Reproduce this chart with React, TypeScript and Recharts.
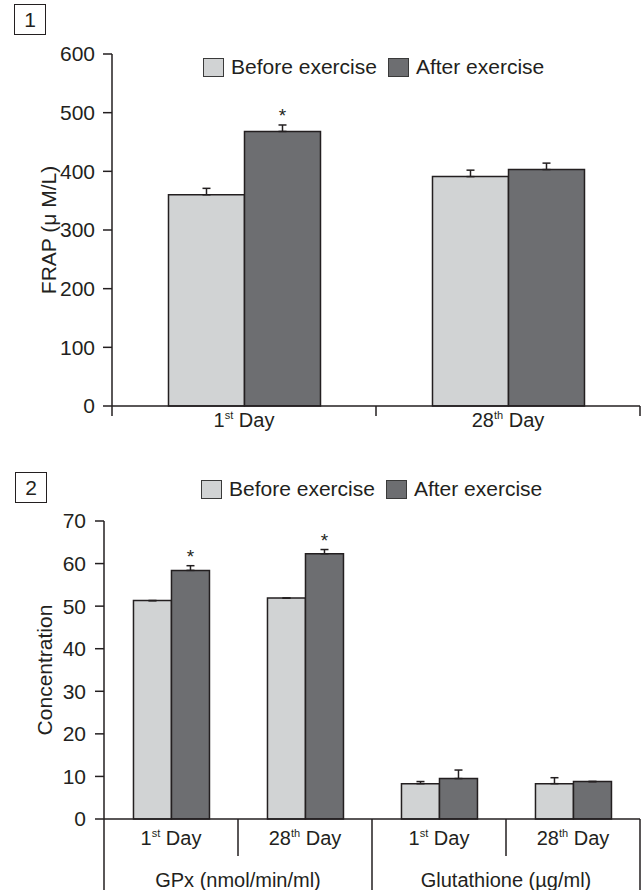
import React from 'react';
import { BarChart, Bar, XAxis, YAxis, ErrorBar, LabelList, Label } from 'recharts';

const FONT = '"Liberation Sans", Arial, Helvetica, sans-serif';
const INK = '#231f20';
const LIGHT = '#d1d3d4';
const DARK = '#6d6e71';

// ---------- Panel 1: FRAP ----------
const frapDays = ['1st Day', '28th Day'];
const frapBefore = [360, 391];
const frapAfter = [468, 403];
const frapBeforeErr = [11, 11];
const frapAfterErr = [11, 11];
const frapSignificant = [true, false];
const frapTicks = [0, 100, 200, 300, 400, 500, 600];

// ---------- Panel 2: Concentration ----------
const concKeys = ['gpx-1', 'gpx-28', 'glu-1', 'glu-28'];
const concDays = ['1st Day', '28th Day', '1st Day', '28th Day'];
const concGroups = ['GPx (nmol/min/ml)', 'GPx (nmol/min/ml)', 'Glutathione (µg/ml)', 'Glutathione (µg/ml)'];
const concBefore = [51.3, 51.9, 8.3, 8.3];
const concAfter = [58.4, 62.3, 9.5, 8.8];
const concBeforeErr = [0, 0, 0.5, 1.4];
const concAfterErr = [1.1, 1.0, 2.0, 0];
const concSignificant = [true, true, false, false];
const concTicks = [0, 10, 20, 30, 40, 50, 60, 70];

const legendLabels = ['Before exercise', 'After exercise'];

const frapData = frapDays.map((d, i) => ({
  key: d,
  day: d,
  before: frapBefore[i],
  after: frapAfter[i],
  beforeErr: [0, frapBeforeErr[i]],
  afterErr: [0, frapAfterErr[i]],
  star: frapSignificant[i] ? frapAfterErr[i] : null,
}));

const concData = concKeys.map((k, i) => ({
  key: k,
  day: concDays[i],
  group: concGroups[i],
  before: concBefore[i],
  after: concAfter[i],
  beforeErr: [0, concBeforeErr[i]],
  afterErr: [0, concAfterErr[i]],
  star: concSignificant[i] ? concAfterErr[i] : null,
}));

function DayText({ x, y, label }: { x: number; y: number; label: string }) {
  const m = /^(\d+)(st|nd|rd|th)\s+(.*)$/.exec(label);
  if (!m) {
    return (
      <text x={x} y={y} textAnchor="middle" fontSize={20} fill={INK} fontFamily={FONT}>
        {label}
      </text>
    );
  }
  return (
    <text x={x} y={y} textAnchor="middle" fontSize={20} fill={INK} fontFamily={FONT}>
      <tspan>{m[1]}</tspan>
      <tspan dy={-8} fontSize={11}>{m[2]}</tspan>
      <tspan dy={8}>{' ' + m[3]}</tspan>
    </text>
  );
}

const makeDayTick = (labels: string[], half: number, lineLen: number, textDy: number) => (props: any) => {
  const { x, y, payload, index } = props;
  const h = payload && typeof payload.offset === 'number' && payload.offset > 0 ? payload.offset : half;
  const last = index === labels.length - 1;
  return (
    <g>
      <line x1={x - h} x2={x - h} y1={y} y2={y + lineLen} stroke={INK} strokeWidth={1.5} />
      {last && <line x1={x + h} x2={x + h} y1={y} y2={y + lineLen} stroke={INK} strokeWidth={1.5} />}
      <DayText x={x} y={y + textDy} label={labels[index]} />
    </g>
  );
};

const GroupTick = (props: any) => {
  const { x, y, payload, index, visibleTicksCount } = props;
  const h = payload && typeof payload.offset === 'number' && payload.offset > 0 ? payload.offset : 134;
  const last = index === (visibleTicksCount ? visibleTicksCount - 1 : 1);
  return (
    <g>
      <line x1={x - h} x2={x - h} y1={y} y2={y + 40} stroke={INK} strokeWidth={1.5} />
      {last && <line x1={x + h} x2={x + h} y1={y} y2={y + 40} stroke={INK} strokeWidth={1.5} />}
      <text x={x} y={y + 31} textAnchor="middle" fontSize={20} fill={INK} fontFamily={FONT}>
        {payload.value}
      </text>
    </g>
  );
};

const makeStar = (data: any[]) => (props: any) => {
  const { x, y, width, height, value, index } = props;
  if (value === null || value === undefined) return null;
  const row = data[index];
  const pxPerUnit = Number(height) / row.after;
  const errTop = Number(y) - Number(value) * pxPerUnit;
  return (
    <text
      x={Number(x) + Number(width) / 2}
      y={errTop - 3}
      textAnchor="middle"
      fontSize={19}
      fill={INK}
      fontFamily={FONT}
    >
      *
    </text>
  );
};

const YTitle = ({ text, x, y }: any) => (
  <text
    x={x}
    y={y}
    transform={`rotate(-90, ${x}, ${y})`}
    textAnchor="middle"
    fontSize={21}
    fill={INK}
    fontFamily={FONT}
  >
    {text}
  </text>
);

function Legend({ left, top }: { left: number; top: number }) {
  const sw = (bg: string, ml: number) => (
    <span
      style={{
        display: 'inline-block',
        width: 21,
        height: 19,
        boxSizing: 'border-box',
        border: '1.5px solid #3a3a3a',
        background: bg,
        marginLeft: ml,
        marginRight: 7,
      }}
    />
  );
  return (
    <div
      style={{
        position: 'absolute',
        left,
        top,
        display: 'flex',
        alignItems: 'center',
        fontFamily: FONT,
        fontSize: 21,
        color: INK,
        whiteSpace: 'nowrap',
        lineHeight: '20px',
      }}
    >
      {sw(LIGHT, 0)}
      <span>{legendLabels[0]}</span>
      {sw(DARK, 11)}
      <span>{legendLabels[1]}</span>
    </div>
  );
}

function PanelBox({ left, top, text }: { left: number; top: number; text: string }) {
  return (
    <div
      style={{
        position: 'absolute',
        left,
        top,
        width: 32,
        height: 31,
        boxSizing: 'border-box',
        border: `1px solid ${INK}`,
        fontFamily: FONT,
        fontSize: 21,
        color: INK,
        lineHeight: '29px',
        textAlign: 'center',
      }}
    >
      {text}
    </div>
  );
}

const tickStyle = { fontSize: 21, fill: INK, fontFamily: FONT };

export default function App() {
  return (
    <div style={{ position: 'absolute', left: 0, top: 0, width: 642, height: 890, background: '#fff' }}>
      {/* Panel 1 */}
      <div style={{ position: 'absolute', left: 0, top: 0 }}>
        <BarChart
          width={642}
          height={440}
          data={frapData}
          margin={{ top: 54, right: 2, bottom: 0, left: 0 }}
          barCategoryGap="21.4%"
          barGap={0}
        >
          <XAxis
            dataKey="key"
            height={34}
            interval={0}
            tickLine={false}
            tickSize={0}
            tickMargin={0}
            axisLine={{ stroke: INK, strokeWidth: 1.5 }}
            tick={makeDayTick(frapDays, 132, 10, 21)}
          />
          <YAxis
            width={112}
            domain={[0, 600]}
            ticks={frapTicks}
            interval={0}
            tickSize={9}
            tickMargin={8}
            axisLine={{ stroke: INK, strokeWidth: 1.5 }}
            tickLine={{ stroke: INK, strokeWidth: 1.5 }}
            tick={tickStyle}
          >
            <Label content={<YTitle text="FRAP (μ M/L)" x={31} y={236} />} />
          </YAxis>
          <Bar dataKey="before" fill={LIGHT} stroke={INK} strokeWidth={1.5} isAnimationActive={false}>
            <ErrorBar dataKey="beforeErr" width={4} stroke={INK} strokeWidth={1.5} direction="y" />
          </Bar>
          <Bar dataKey="after" fill={DARK} stroke={INK} strokeWidth={1.5} isAnimationActive={false}>
            <ErrorBar dataKey="afterErr" width={4} stroke={INK} strokeWidth={1.5} direction="y" />
            <LabelList dataKey="star" content={makeStar(frapData)} />
          </Bar>
        </BarChart>
      </div>
      <PanelBox left={14} top={4} text="1" />
      <Legend left={203} top={57} />

      {/* Panel 2 */}
      <div style={{ position: 'absolute', left: 0, top: 440 }}>
        <BarChart
          width={642}
          height={450}
          data={concData}
          margin={{ top: 81, right: 2, bottom: 0, left: 0 }}
          barCategoryGap="22%"
          barGap={0}
        >
          <XAxis
            dataKey="key"
            height={37}
            interval={0}
            tickLine={false}
            tickSize={0}
            tickMargin={0}
            axisLine={{ stroke: INK, strokeWidth: 1.5 }}
            tick={makeDayTick(concDays, 67, 37, 26)}
          />
          <XAxis
            xAxisId="group"
            dataKey="group"
            allowDuplicatedCategory={false}
            height={34}
            interval={0}
            tickLine={false}
            tickSize={0}
            tickMargin={0}
            axisLine={false}
            tick={<GroupTick />}
          />
          <YAxis
            width={104}
            domain={[0, 70]}
            ticks={concTicks}
            interval={0}
            tickSize={9}
            tickMargin={9}
            axisLine={{ stroke: INK, strokeWidth: 1.5 }}
            tickLine={{ stroke: INK, strokeWidth: 1.5 }}
            tick={tickStyle}
          >
            <Label content={<YTitle text="Concentration" x={31} y={230} />} />
          </YAxis>
          <Bar dataKey="before" fill={LIGHT} stroke={INK} strokeWidth={1.5} isAnimationActive={false}>
            <ErrorBar dataKey="beforeErr" width={4} stroke={INK} strokeWidth={1.5} direction="y" />
          </Bar>
          <Bar dataKey="after" fill={DARK} stroke={INK} strokeWidth={1.5} isAnimationActive={false}>
            <ErrorBar dataKey="afterErr" width={4} stroke={INK} strokeWidth={1.5} direction="y" />
            <LabelList dataKey="star" content={makeStar(concData)} />
          </Bar>
        </BarChart>
      </div>
      <PanelBox left={15} top={472} text="2" />
      <Legend left={201} top={479} />
    </div>
  );
}
